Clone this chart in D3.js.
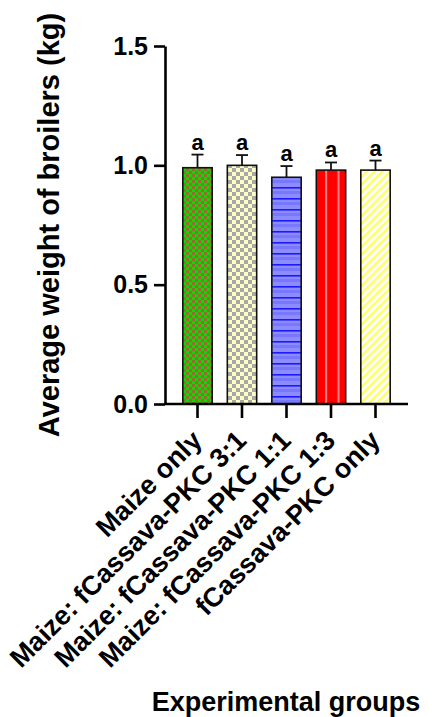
<!DOCTYPE html>
<html>
<head>
<meta charset="utf-8">
<script src="https://cdn.jsdelivr.net/npm/d3@7"></script>
<style>
  body { margin: 0; background: #fff; }
  svg { display: block; font-family: Arial, "Liberation Sans", sans-serif; }
</style>
</head>
<body>
<svg id="chart" width="432" height="717"></svg>
<script>
// data
const groups = ["Maize only", "Maize: fCassava-PKC 3:1", "Maize: fCassava-PKC 1:1", "Maize: fCassava-PKC 1:3", "fCassava-PKC only"];
const means = [0.99, 1.00, 0.95, 0.98, 0.98];
const errors = [0.055, 0.043, 0.047, 0.032, 0.04];
const letters = ["a", "a", "a", "a", "a"];
const yTicks = [0, 0.5, 1.0, 1.5];
const fills = ["url(#pGreen)", "url(#pCheck)", "url(#pBlue)", "url(#pRed)", "url(#pYellow)"];

const svg = d3.select("#chart");

// patterns
const defs = svg.append("defs");

const green = defs.append("pattern").attr("id", "pGreen")
  .attr("patternUnits", "userSpaceOnUse").attr("width", 6).attr("height", 6);
green.append("rect").attr("width", 6).attr("height", 6).attr("fill", "#00e000");
green.append("rect").attr("width", 3).attr("height", 3).attr("fill", "#9a6a30");
green.append("rect").attr("x", 3).attr("y", 3).attr("width", 3).attr("height", 3).attr("fill", "#9a6a30");

const check = defs.append("pattern").attr("id", "pCheck")
  .attr("patternUnits", "userSpaceOnUse").attr("width", 8).attr("height", 8);
check.append("rect").attr("width", 8).attr("height", 8).attr("fill", "#ffffc4");
check.append("rect").attr("width", 4).attr("height", 4).attr("fill", "#a8a8a8");
check.append("rect").attr("x", 4).attr("y", 4).attr("width", 4).attr("height", 4).attr("fill", "#a8a8a8");

const blue = defs.append("pattern").attr("id", "pBlue")
  .attr("patternUnits", "userSpaceOnUse").attr("width", 8).attr("height", 11);
blue.append("rect").attr("width", 8).attr("height", 11).attr("fill", "#8c8cff");
blue.append("rect").attr("y", 0).attr("width", 8).attr("height", 1.6).attr("fill", "#1a1aff");
blue.append("rect").attr("y", 4).attr("width", 8).attr("height", 3).attr("fill", "#7878ff");

const red = defs.append("pattern").attr("id", "pRed")
  .attr("patternUnits", "objectBoundingBox").attr("patternContentUnits", "objectBoundingBox")
  .attr("width", 1).attr("height", 1);
red.append("rect").attr("width", 1).attr("height", 1).attr("fill", "#ff0000");
red.append("rect").attr("x", 0.3).attr("width", 0.07).attr("height", 1).attr("fill", "#ff8080");
red.append("rect").attr("x", 0.72).attr("width", 0.07).attr("height", 1).attr("fill", "#ff8080");

const yellow = defs.append("pattern").attr("id", "pYellow")
  .attr("patternUnits", "userSpaceOnUse").attr("width", 5.5).attr("height", 5.5)
  .attr("patternTransform", "rotate(45)");
yellow.append("rect").attr("width", 5.5).attr("height", 5.5).attr("fill", "#ffffff");
yellow.append("rect").attr("width", 2.5).attr("height", 5.5).attr("fill", "#ffff66");

// scales
const x = d3.scaleBand().domain(groups).range([175.25, 397.75])
  .paddingInner(0.34).paddingOuter(0.17);
const y = d3.scaleLinear().domain([0, 1.5]).range([404, 46]);

// y axis
const yAxis = svg.append("g").attr("transform", "translate(165,0)")
  .call(d3.axisLeft(y).tickValues(yTicks).tickFormat(d3.format(".1f")).tickSize(11).tickSizeOuter(0).tickPadding(6));
yAxis.select(".domain").attr("stroke-width", 2.6);
yAxis.selectAll(".tick line").attr("stroke-width", 2.6);
yAxis.selectAll(".tick text").attr("font-size", 25).attr("font-weight", "bold")
  .attr("font-family", "Arial, 'Liberation Sans', sans-serif").attr("fill", "#000");

// bars
svg.append("g").selectAll("rect")
  .data(groups)
  .join("rect")
  .attr("x", d => x(d))
  .attr("y", (d, i) => y(means[i]))
  .attr("width", x.bandwidth())
  .attr("height", (d, i) => y(0) - y(means[i]))
  .attr("fill", (d, i) => fills[i])
  .attr("stroke", "#111")
  .attr("stroke-width", 1.6);

// error bars (upper only)
const eb = svg.append("g").attr("stroke", "#111").attr("stroke-width", 1.8);
groups.forEach((g, i) => {
  const cx = x(g) + x.bandwidth() / 2;
  eb.append("line").attr("x1", cx).attr("x2", cx)
    .attr("y1", y(means[i])).attr("y2", y(means[i] + errors[i]));
  eb.append("line").attr("x1", cx - 6).attr("x2", cx + 6)
    .attr("y1", y(means[i] + errors[i])).attr("y2", y(means[i] + errors[i]));
});

// significance letters
svg.append("g").selectAll("text")
  .data(groups)
  .join("text")
  .attr("x", d => x(d) + x.bandwidth() / 2)
  .attr("y", (d, i) => y(means[i] + errors[i]) - 5)
  .attr("text-anchor", "middle")
  .attr("font-size", 22)
  .attr("font-weight", "bold")
  .text((d, i) => letters[i]);

// x axis
const xAxis = svg.append("g").attr("transform", "translate(0,404)")
  .call(d3.axisBottom(x).tickSize(14).tickSizeOuter(0).tickFormat(""));
xAxis.select(".domain").remove();
xAxis.selectAll(".tick line").attr("stroke-width", 2.6);
svg.append("line").attr("x1", 164).attr("x2", 408).attr("y1", 404).attr("y2", 404)
  .attr("stroke", "#000").attr("stroke-width", 2.6);

// x tick labels, rotated
svg.append("g").selectAll("text")
  .data(groups)
  .join("text")
  .attr("transform", d => `translate(${x(d) + x.bandwidth() / 2 + 6},442) rotate(-45)`)
  .attr("text-anchor", "end")
  .attr("font-size", 27)
  .attr("font-weight", "bold")
  .text(d => d);

// axis titles
svg.append("text")
  .attr("transform", "translate(59,225) rotate(-90)")
  .attr("text-anchor", "middle")
  .attr("font-size", 29)
  .attr("font-weight", "bold")
  .text("Average weight of broilers (kg)");

svg.append("text")
  .attr("x", 286).attr("y", 711)
  .attr("text-anchor", "middle")
  .attr("font-size", 27)
  .attr("font-weight", "bold")
  .text("Experimental groups");
</script>
</body>
</html>
